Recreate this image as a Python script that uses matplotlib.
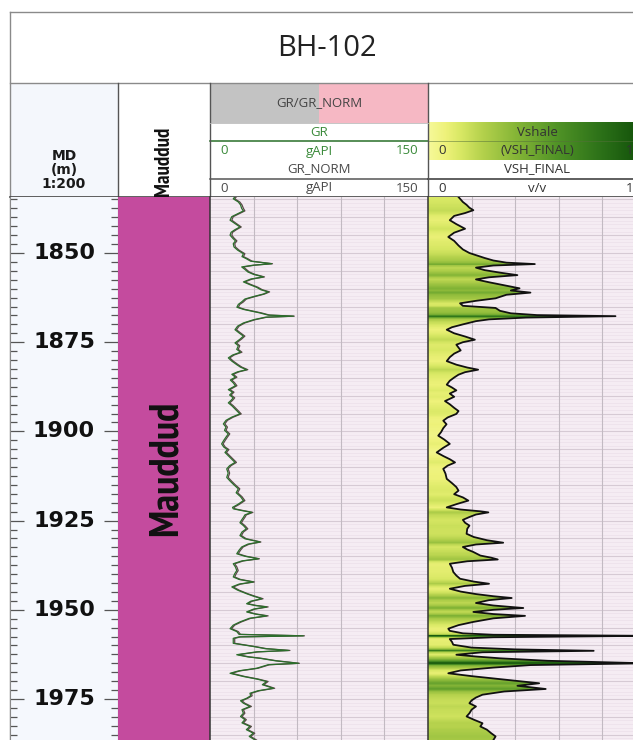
import numpy as np
import matplotlib
matplotlib.use('Agg')
import matplotlib.pyplot as plt
from matplotlib.colors import LinearSegmentedColormap
from matplotlib.patches import Rectangle
from matplotlib.ticker import MultipleLocator
from matplotlib import font_manager as fm

# ---------------- data ----------------
well_name = "BH-102"
formation = "Mauddud"
depth_labels = [1850, 1875, 1900, 1925, 1950, 1975]

gr_depth = [1834.3, 1834.8, 1835.7, 1836.5, 1837.5, 1838.2, 1839.0, 1839.8, 1840.8, 1841.7,
            1842.7, 1843.5, 1844.2, 1845.0, 1845.8, 1846.6, 1847.4, 1848.3, 1849.2, 1850.2,
            1851.0, 1851.6, 1852.3, 1853.0, 1853.4, 1853.9, 1854.6, 1855.3, 1856.0, 1856.7,
            1857.3, 1858.1, 1858.8, 1859.6, 1860.3, 1860.9, 1861.5, 1862.2, 1862.9, 1863.7,
            1864.4, 1865.2, 1865.8, 1866.8, 1867.4, 1867.7, 1868.0, 1868.7, 1869.6, 1870.5,
            1871.5, 1872.4, 1873.3, 1874.2, 1875.2, 1876.0, 1877.0, 1877.8, 1878.6, 1879.4,
            1880.3, 1881.3, 1882.0, 1882.7, 1883.3, 1884.0, 1884.8, 1885.6, 1886.4, 1887.2,
            1888.3, 1889.0, 1889.8, 1890.6, 1891.3, 1892.0, 1892.8, 1893.6, 1894.2, 1895.1,
            1896.0, 1896.9, 1897.9, 1898.8, 1899.7, 1900.7, 1901.6, 1902.5, 1903.5, 1904.4,
            1905.1, 1905.9, 1906.8, 1907.8, 1908.7, 1909.6, 1910.5, 1911.7, 1912.9, 1914.0,
            1915.0, 1916.1, 1917.2, 1918.3, 1919.4, 1920.5, 1921.3, 1921.7, 1922.2, 1922.7,
            1923.4, 1924.1, 1924.8, 1925.6, 1926.4, 1927.3, 1928.2, 1929.2, 1930.1, 1931.0,
            1931.6, 1932.4, 1933.3, 1934.3, 1935.0, 1935.7, 1936.3, 1937.1, 1938.0, 1939.0,
            1939.9, 1940.8, 1941.5, 1942.2, 1942.8, 1943.6, 1944.5, 1945.5, 1946.2, 1946.9,
            1947.6, 1948.3, 1948.8, 1949.2, 1949.8, 1950.6, 1951.2, 1951.7, 1952.4, 1953.4,
            1954.3, 1955.3, 1956.1, 1956.9, 1957.3, 1957.6, 1958.0, 1959.4, 1960.3, 1960.9,
            1961.4, 1961.8, 1962.6, 1963.2, 1963.6, 1964.3, 1965.0, 1965.4, 1966.4, 1967.1,
            1967.8, 1968.7, 1969.4, 1970.1, 1971.0, 1972.0, 1972.7, 1973.4, 1974.1, 1974.8,
            1975.5, 1976.2, 1977.1, 1978.0, 1979.0, 1979.9, 1980.8, 1981.7, 1982.7, 1983.6,
            1984.6, 1985.5, 1986.5]

gr = [17, 16, 19.5, 21, 21.8, 23, 19, 15, 13.8, 17,
      20.6, 17, 14.5, 13.8, 15.5, 17.5, 16, 16.5, 19, 23,
      22, 25, 28, 42.4, 30, 21.8, 24, 26, 30, 36.7,
      28, 23, 27, 32, 35, 40, 36.7, 30, 24, 21.8,
      19.5, 18.5, 23, 34.4, 40, 57.4, 38, 30, 23, 19,
      17.2, 20, 23, 20.5, 17.2, 19.5, 18.4, 21, 15.5, 12.6,
      15, 18.4, 21, 25.2, 19, 15, 17.5, 14, 16, 17.5,
      12.6, 15.5, 13.5, 16, 14.5, 12.6, 15, 17, 18.4, 20.6,
      15, 11, 9.2, 11, 10, 12.6, 11, 9.5, 8, 9.5,
      12, 10.3, 12.5, 15, 17.2, 13.5, 11.5, 12.5, 11.5, 14,
      16.5, 19.5, 18, 21, 23, 19, 15.5, 16, 22, 28.7,
      24, 23, 21.8, 20.6, 23, 25, 22, 20.6, 24, 34.4,
      26, 21.8, 20, 18.4, 24, 33.3, 22, 16, 17.5, 18.4,
      17, 16, 20, 29.8, 20, 15, 19, 25.2, 30, 35.6,
      28, 25.2, 31, 39, 30, 25.2, 31, 39, 27, 20.6,
      16, 13.8, 18.4, 20, 64.2, 20, 16, 16, 30, 38,
      54, 32, 18.4, 26, 34.4, 45, 60.8, 40, 32, 20,
      13.8, 23, 32, 39, 36, 43.6, 33, 27.5, 28, 25.2,
      21, 23, 27.5, 22, 23, 21, 24, 22, 27.5, 25,
      29.8, 27, 31]

gr_norm = [18, 17, 20.5, 22, 23, 24, 20, 16, 15, 18,
           21.5, 18, 15.5, 15, 16.5, 18.5, 17, 17.5, 20, 24,
           23, 26, 29, 43, 31, 23, 25, 27, 31, 37.5,
           29, 24, 28, 33, 36, 41, 37.5, 31, 25, 23,
           20.5, 19.5, 24, 35.5, 41, 58, 39, 31, 24, 20,
           18.2, 21, 24, 21.5, 18.2, 20.5, 19.4, 22, 16.5, 13.6,
           16, 19.4, 22, 26, 20, 16, 18.5, 15, 17, 18.5,
           13.6, 16.5, 14.5, 17, 15.5, 13.6, 16, 18, 19.4, 21.5,
           16, 12, 10.2, 12, 11, 13.6, 12, 10.5, 9, 10.5,
           13, 11.3, 13.5, 16, 18.2, 14.5, 12.5, 13.5, 12.5, 15,
           17.5, 20.5, 19, 22, 24, 20, 16.5, 17, 23, 29.5,
           25, 24, 22.8, 21.6, 24, 26, 23, 21.6, 25, 35,
           27, 22.8, 21, 19.4, 25, 34, 23, 17, 18.5, 19.4,
           18, 17, 21, 30.5, 21, 16, 20, 26, 31, 36.5,
           29, 26, 32, 40, 31, 26, 32, 40, 28, 21.6,
           17, 14.8, 19.4, 21, 65, 21, 17, 17, 31, 39,
           55, 33, 19.4, 27, 35.4, 46, 61.5, 41, 33, 21,
           14.8, 24, 33, 40, 37, 44.5, 34, 28.5, 29, 26,
           22, 24, 28.5, 23, 24, 22, 25, 23, 28.5, 26,
           30.8, 28, 32]

vsh_depth = [1834.3, 1834.8, 1835.7, 1836.5, 1837.3, 1838.0, 1838.8, 1839.6, 1840.8, 1841.9,
             1843.2, 1844.3, 1845.5, 1846.6, 1847.9, 1849.0, 1850.0, 1850.6, 1851.4, 1852.1,
             1852.7, 1853.1, 1853.5, 1854.1, 1854.8, 1855.5, 1856.2, 1856.8, 1857.4, 1858.2,
             1858.8, 1859.9, 1860.5, 1861.1, 1861.7, 1862.7, 1863.4, 1864.1, 1864.8, 1865.4,
             1866.2, 1866.9, 1867.4, 1867.7, 1868.1, 1868.6, 1869.1, 1870.0, 1870.8, 1871.5,
             1872.5, 1873.4, 1874.3, 1875.0, 1875.7, 1876.5, 1877.3, 1878.2, 1879.2, 1880.3,
             1881.3, 1882.1, 1882.7, 1883.4, 1884.1, 1884.9, 1885.8, 1886.9, 1887.7, 1888.5,
             1889.4, 1890.3, 1891.5, 1892.4, 1893.4, 1894.3, 1895.1, 1896.1, 1897.0, 1898.0,
             1899.1, 1900.2, 1901.2, 1902.3, 1903.5, 1904.6, 1905.9, 1906.9, 1907.8, 1908.7,
             1909.6, 1910.5, 1911.8, 1913.3, 1914.5, 1915.6, 1916.6, 1917.6, 1918.5, 1919.4,
             1920.4, 1921.3, 1921.9, 1922.4, 1922.7, 1923.3, 1924.0, 1924.8, 1925.6, 1926.4,
             1927.3, 1928.7, 1929.6, 1930.5, 1931.2, 1931.7, 1932.4, 1933.1, 1933.8, 1934.8,
             1935.4, 1935.9, 1936.4, 1937.1, 1938.2, 1939.4, 1940.4, 1941.3, 1942.1, 1942.7,
             1943.3, 1944.1, 1944.9, 1945.6, 1946.2, 1946.7, 1947.3, 1948.1, 1948.8, 1949.5,
             1950.0, 1950.6, 1951.2, 1951.7, 1952.4, 1953.4, 1954.3, 1955.3, 1955.9, 1956.6,
             1957.0, 1957.3, 1957.7, 1958.2, 1959.0, 1959.8, 1960.6, 1961.1, 1961.5, 1961.9,
             1962.6, 1963.1, 1963.6, 1964.3, 1965.0, 1965.5, 1966.2, 1967.0, 1967.8, 1968.6,
             1969.3, 1970.0, 1970.6, 1971.3, 1972.2, 1972.9, 1973.8, 1974.6, 1975.4, 1976.2,
             1977.1, 1978.0, 1979.0, 1979.9, 1980.8, 1981.8, 1982.7, 1983.6, 1984.6, 1985.5,
             1986.5]

vsh = [0.14, 0.147, 0.16, 0.177, 0.19, 0.208, 0.17, 0.12, 0.10, 0.13,
       0.17, 0.12, 0.093, 0.12, 0.14, 0.16, 0.19, 0.22, 0.26, 0.30,
       0.36, 0.49, 0.30, 0.22, 0.26, 0.33, 0.41, 0.28, 0.22, 0.28,
       0.33, 0.42, 0.38, 0.47, 0.36, 0.31, 0.22, 0.147, 0.16, 0.31,
       0.33, 0.38, 0.50, 0.86, 0.45, 0.28, 0.22, 0.16, 0.11, 0.086,
       0.12, 0.17, 0.215, 0.16, 0.13, 0.14, 0.15, 0.12, 0.10, 0.086,
       0.13, 0.18, 0.23, 0.17, 0.14, 0.12, 0.10, 0.086, 0.11, 0.13,
       0.10, 0.12, 0.078, 0.10, 0.12, 0.14, 0.13, 0.09, 0.07, 0.085,
       0.07, 0.06, 0.047, 0.075, 0.10, 0.07, 0.04, 0.07, 0.10, 0.124,
       0.09, 0.07, 0.08, 0.086, 0.11, 0.13, 0.14, 0.12, 0.16, 0.185,
       0.13, 0.086, 0.15, 0.24, 0.277, 0.22, 0.19, 0.16, 0.17, 0.19,
       0.18, 0.177, 0.21, 0.27, 0.345, 0.22, 0.16, 0.18, 0.208, 0.24,
       0.29, 0.32, 0.18, 0.10, 0.11, 0.116, 0.13, 0.147, 0.21, 0.28,
       0.17, 0.10, 0.15, 0.22, 0.30, 0.384, 0.28, 0.22, 0.30, 0.437,
       0.30, 0.208, 0.30, 0.445, 0.30, 0.208, 0.14, 0.093, 0.10, 0.16,
       0.30, 1.0, 0.30, 0.10, 0.11, 0.116, 0.20, 0.40, 0.76, 0.25,
       0.13, 0.22, 0.33, 0.55, 1.0, 0.47, 0.30, 0.15, 0.093, 0.20,
       0.31, 0.42, 0.51, 0.41, 0.54, 0.35, 0.25, 0.22, 0.20, 0.19,
       0.22, 0.20, 0.19, 0.177, 0.21, 0.25, 0.24, 0.27, 0.29, 0.31,
       0.30]

gr_min, gr_max = 0, 150
vsh_min, vsh_max = 0, 1

# ---------------- fonts ----------------
HDR_FONT = ['Open Sans', 'DejaVu Sans']


def find_narrow_bold():
    best = None
    for f in fm.fontManager.ttflist:
        name = f.name
        w = f.weight if isinstance(f.weight, int) else (700 if 'bold' in str(f.weight).lower() else 400)
        narrow = ('Narrow' in name or 'Condensed' in name or
                  str(f.stretch) in ('condensed', 'semi-condensed', 'extra-condensed', '75', '87.5'))
        if narrow and w >= 600:
            score = 0 if 'Narrow' in name else 1
            if best is None or score < best[0]:
                best = (score, f.fname)
    return best[1] if best else None


narrow_file = find_narrow_bold()
if narrow_file:
    big_fp = fm.FontProperties(fname=narrow_file, size=29.5)
    small_fp = fm.FontProperties(fname=narrow_file, size=15)
else:
    big_fp = fm.FontProperties(family=['Liberation Sans', 'DejaVu Sans'], weight='bold', size=22)
    small_fp = fm.FontProperties(family=['Liberation Sans', 'DejaVu Sans'], weight='bold', size=11)

# ---------------- layout ----------------
W, H = 633, 740
fig = plt.figure(figsize=(W / 100, H / 100), dpi=100)
fig.patch.set_facecolor('white')


def box(x0, y0, x1, y1):
    return [x0 / W, 1 - y1 / H, (x1 - x0) / W, (y1 - y0) / H]


TOP, BOT = 1834.3, 1986.5

vsh_cmap = LinearSegmentedColormap.from_list('vsh', [
    (0.0, '#f6f99a'), (0.08, '#eef27a'), (0.15, '#d8e864'), (0.25, '#b4d14c'),
    (0.4, '#86b637'), (0.6, '#4f9226'), (0.8, '#2b7018'), (1.0, '#0f4d08')])

GRID_BG = '#f5ecf3'
GREEN_TXT = '#3a8a3a'
GRAY_TXT = '#4a4a4a'
HS = 9.5  # header font size

# overlay for header
ov = fig.add_axes([0, 0, 1, 1])
ov.axis('off')
ov.set_zorder(0)

# title box
ov.plot([10, W], [12, 12], color='#8a8a8a', lw=1)
ov.plot([10, W], [83, 83], color='#8a8a8a', lw=1)
ov.plot([10, 10], [12, H], color='#8a8a8a', lw=1)
ov.text(327, 48, well_name, ha='center', va='center', fontsize=21,
        family=HDR_FONT, color='#222222')

# depth header
ov.add_patch(Rectangle((10, 83), 108, 114, facecolor='#f4f7fc', edgecolor='none'))
for yy, s in [(156, 'MD'), (170, '(m)'), (184.5, '1:200')]:
    ov.text(64, yy, s, ha='center', va='center', fontsize=10,
            fontweight='bold', color='#1a1a1a')

# formation header
ov.text(164, 196, formation, rotation=90, ha='center', va='bottom',
        fontproperties=small_fp, color='#111111')

# GR header
ov.add_patch(Rectangle((210, 83), 109, 40, facecolor='#c3c3c3', edgecolor='none'))
ov.add_patch(Rectangle((319, 83), 109, 40, facecolor='#f6b8c4', edgecolor='none'))
ov.text(319, 103, 'GR/GR_NORM', ha='center', va='center', fontsize=HS,
        family=HDR_FONT, color='#444444')
ov.text(319, 132, 'GR', ha='center', va='center', fontsize=HS,
        family=HDR_FONT, color=GREEN_TXT)
ov.plot([210, 428], [141, 141], color='#3a7a3a', lw=1.2)
ov.text(220, 151, f'{gr_min}', ha='left', va='center', fontsize=HS, family=HDR_FONT, color=GREEN_TXT)
ov.text(319, 151, 'gAPI', ha='center', va='center', fontsize=HS, family=HDR_FONT, color=GREEN_TXT)
ov.text(418, 151, f'{gr_max}', ha='right', va='center', fontsize=HS, family=HDR_FONT, color=GREEN_TXT)
ov.text(319, 169, 'GR_NORM', ha='center', va='center', fontsize=HS,
        family=HDR_FONT, color=GRAY_TXT)
ov.plot([210, 428], [179, 179], color='#555555', lw=1.1)
ov.text(220, 188, f'{gr_min}', ha='left', va='center', fontsize=HS, family=HDR_FONT, color=GRAY_TXT)
ov.text(319, 188, 'gAPI', ha='center', va='center', fontsize=HS, family=HDR_FONT, color=GRAY_TXT)
ov.text(418, 188, f'{gr_max}', ha='right', va='center', fontsize=HS, family=HDR_FONT, color=GRAY_TXT)

# VSH header
grad = np.linspace(0, 1, 256)[None, :]
ov.imshow(grad, extent=[428, 646, 160, 122], cmap=vsh_cmap, vmin=0, vmax=1,
          aspect='auto', interpolation='bilinear', zorder=0.5)
ov.plot([428, W], [141, 141], color='#55703a', lw=0.6, alpha=0.6)
ov.text(537, 132, 'Vshale', ha='center', va='center', fontsize=HS, family=HDR_FONT, color='#333333')
ov.text(438, 151, f'{vsh_min}', ha='left', va='center', fontsize=HS, family=HDR_FONT, color='#333333')
ov.text(537, 151, '(VSH_FINAL)', ha='center', va='center', fontsize=HS, family=HDR_FONT, color='#333333')
ov.text(633, 151, f'{vsh_max}', ha='right', va='center', fontsize=HS, family=HDR_FONT, color='#333333')
ov.text(537, 169, 'VSH_FINAL', ha='center', va='center', fontsize=HS, family=HDR_FONT, color='#333333')
ov.plot([428, W], [179, 179], color='#333333', lw=1.1)
ov.text(438, 188, f'{vsh_min}', ha='left', va='center', fontsize=HS, family=HDR_FONT, color='#333333')
ov.text(537, 188, 'v/v', ha='center', va='center', fontsize=HS, family=HDR_FONT, color='#333333')
ov.text(633, 188, f'{vsh_max}', ha='right', va='center', fontsize=HS, family=HDR_FONT, color='#333333')

# header separators
for xx in [118, 210, 428]:
    ov.plot([xx, xx], [83, 197], color='#555555', lw=1)
ov.plot([210, 428], [123, 123], color='#bbbbbb', lw=0.6)
ov.plot([10, W], [197, 197], color='#444444', lw=1.2)
ov.set_xlim(0, W)
ov.set_ylim(H, 0)

# ---------------- depth track ----------------
axd = fig.add_axes(box(10, 197, 118, 740))
axd.set_facecolor('#f5f8fd')
axd.set_ylim(BOT, TOP)
axd.set_xlim(0, 1)
axd.set_xticks([])
axd.yaxis.set_major_locator(MultipleLocator(25))
axd.yaxis.set_minor_locator(MultipleLocator(2.5))
axd.tick_params(axis='y', which='both', left=True, right=True, direction='in',
                labelleft=False, color='#555555', width=0.9)
axd.tick_params(axis='y', which='major', length=10)
axd.tick_params(axis='y', which='minor', length=5)
for s in ['top', 'bottom']:
    axd.spines[s].set_visible(False)
axd.spines['left'].set_color('#8a8a8a')
axd.spines['right'].set_color('#555555')
for d in depth_labels:
    axd.text(0.5, d, str(d), transform=axd.get_yaxis_transform(),
             ha='center', va='center', fontsize=16, fontweight='bold', color='#111111')

# ---------------- formation track ----------------
axf = fig.add_axes(box(118, 197, 210, 740))
axf.set_facecolor('#c44b9e')
axf.set_ylim(BOT, TOP)
axf.set_xticks([])
axf.set_yticks([])
for s in axf.spines.values():
    s.set_visible(False)
axf.text(0.52, 0.5, formation, transform=axf.transAxes, rotation=90,
         ha='center', va='center', fontproperties=big_fp, color='#111111')


def track_grid(ax, xmin, xmax):
    ax.set_facecolor(GRID_BG)
    ax.set_xlim(xmin, xmax)
    ax.set_ylim(BOT, TOP)
    for d in np.arange(1835, 1987, 1):
        ax.axhline(d, color='#ebe0e9', lw=0.5, zorder=0.3)
    for d in np.arange(1835, 1987, 5):
        ax.axhline(d, color='#d6cad4', lw=0.8, zorder=0.4)
    for x in np.linspace(xmin, xmax, 6)[1:-1]:
        ax.axvline(x, color='#c2bac2', lw=0.8, zorder=0.4)
    ax.set_xticks([])
    ax.set_yticks([])
    for s in ['top', 'bottom', 'right']:
        ax.spines[s].set_visible(False)
    ax.spines['left'].set_color('#333333')
    ax.spines['left'].set_linewidth(1.1)


# ---------------- GR track ----------------
axg = fig.add_axes(box(210, 197, 428, 740))
track_grid(axg, gr_min, gr_max)
axg.plot(gr_norm, gr_depth, color='#5a4848', lw=0.9, zorder=3)
axg.plot(gr, gr_depth, color='#2b6e2b', lw=0.9, zorder=4)

# ---------------- VSH track ----------------
axv = fig.add_axes(box(428, 197, 646, 740))
track_grid(axv, vsh_min, vsh_max)
poly = axv.fill_betweenx(vsh_depth, 0, vsh, facecolor='none', edgecolor='none')
dgrid = np.linspace(TOP, BOT, 2000)
vcol = np.interp(dgrid, vsh_depth, vsh)
img = axv.imshow(vcol[:, None], extent=[0, 1.2, BOT, TOP], origin='upper',
                 cmap=vsh_cmap, vmin=0, vmax=1, aspect='auto',
                 interpolation='nearest', zorder=1)
img.set_clip_path(poly.get_paths()[0], transform=axv.transData)
axv.plot(vsh, vsh_depth, color='#111111', lw=1.3, zorder=3)
axv.set_xlim(vsh_min, vsh_max)
axv.set_ylim(BOT, TOP)

fig.savefig('out.png', dpi=100)
